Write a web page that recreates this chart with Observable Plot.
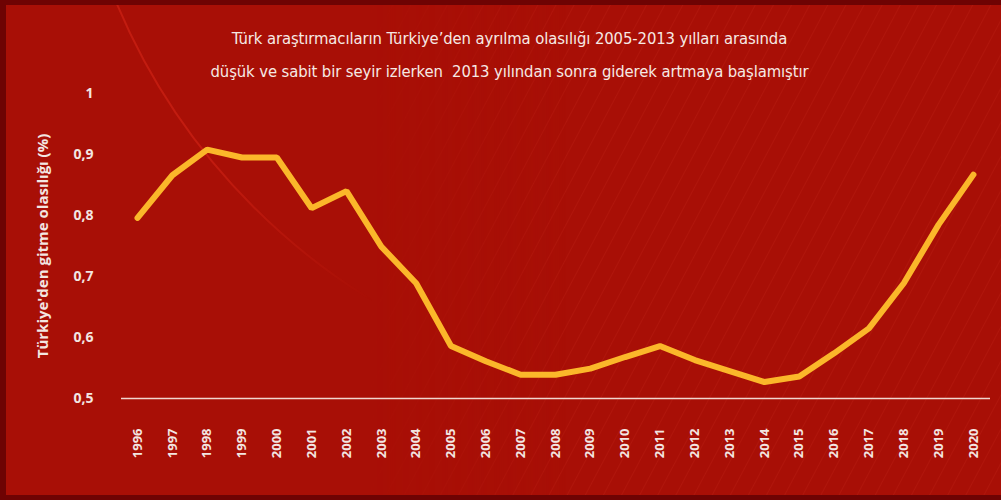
<!DOCTYPE html>
<html>
<head>
<meta charset="utf-8">
<script src="https://cdn.jsdelivr.net/npm/d3@7"></script>
<script src="https://cdn.jsdelivr.net/npm/@observablehq/plot@0.6"></script>
<style>
  html, body { margin: 0; padding: 0; }
  #wrap {
    position: relative; width: 1001px; height: 500px; box-sizing: border-box;
    border-top: 5px solid #6e0303; border-left: 6px solid #6e0303; border-bottom: 5px solid #6e0303;
    background:
      repeating-linear-gradient(-62deg, rgba(255,80,60,0) 0px, rgba(255,80,60,0) 14px, rgba(255,90,70,0.09) 15px, rgba(255,80,60,0) 16px),
      #a80f06;
    overflow: hidden;
  }
  #wrap::before {
    content: ""; position: absolute; left: 0; top: 0; width: 560px; height: 500px;
    background: #a80f06;
    -webkit-mask-image: linear-gradient(90deg, #000 65%, transparent 100%);
    mask-image: linear-gradient(90deg, #000 65%, transparent 100%);
  }
  #deco {
    position: absolute; left: 0; top: 0; width: 420px; height: 360px; overflow: hidden;
    -webkit-mask-image: linear-gradient(135deg, #000 45%, transparent 85%);
    mask-image: linear-gradient(135deg, #000 45%, transparent 85%);
  }
  #deco::after {
    content: ""; position: absolute; left: 60px; top: -885px; width: 1270px; height: 1270px;
    border-radius: 50%; border: 2px solid rgba(255,60,40,0.3);
  }
  #title {
    position: relative; z-index: 2;
    text-align: center; color: #f6e9e4;
    font-family: "Liberation Sans Narrow", "DejaVu Sans Condensed", "Roboto", sans-serif;
    font-size: 16.5px; letter-spacing: -0.1px; line-height: 33px; padding-top: 17px; box-sizing: border-box; height: 80px;
    margin-left: 12px;
  }
  #chart { position: relative; z-index: 2; }
</style>
</head>
<body>
<div id="wrap">
  <div id="deco"></div>
  <div id="title">Türk araştırmacıların Türkiye’den ayrılma olasılığı 2005-2013 yılları arasında<br>düşük ve sabit bir seyir izlerken &nbsp;2013 yılından sonra giderek artmaya başlamıştır</div>
  <div id="chart"></div>
</div>
<script>
const years = [1996,1997,1998,1999,2000,2001,2002,2003,2004,2005,2006,2007,2008,2009,2010,2011,2012,2013,2014,2015,2016,2017,2018,2019,2020];
const values = [0.796,0.866,0.908,0.895,0.895,0.812,0.840,0.749,0.689,0.586,0.561,0.539,0.539,0.549,0.568,0.586,0.563,0.545,0.527,0.536,0.574,0.615,0.689,0.785,0.867];
const yTicks = [0.5,0.6,0.7,0.8,0.9,1];
const yLabel = "Türkiye'den gitme olasılığı (%)";

const data = years.map((y, i) => ({year: y, value: values[i]}));
const fmt = v => String(v).replace(".", ",");

const chart = Plot.plot({
  width: 995,
  height: 410,
  marginLeft: 115,
  marginRight: 11,
  marginTop: 8,
  marginBottom: 97,
  style: {background: "transparent", color: "#f3e6e2", fontFamily: "'Open Sans', sans-serif", fontWeight: "bold", fontSize: "13px", overflow: "visible"},
  x: {domain: [1995.54, 2020.49], ticks: years, tickFormat: d => String(d), tickRotate: -90, tickSize: 0, tickPadding: 30, label: null},
  y: {domain: [0.5, 1], ticks: yTicks, tickFormat: fmt, tickSize: 0, tickPadding: 28, label: yLabel, labelAnchor: "center", labelArrow: "none", labelOffset: 84},
  marks: [
    Plot.ruleY([0.5], {stroke: "#f1d6cf", strokeWidth: 1.5}),
    Plot.line(data, {x: "year", y: "value", stroke: "#fbb72a", strokeWidth: 6, strokeLinejoin: "miter", strokeLinecap: "round"})
  ]
});
d3.select(chart).selectAll("[aria-label='y-axis label'] text").style("font-size", "15px");
d3.select(chart).selectAll("[aria-label='y-axis tick label'] text").style("font-size", "14px");
document.getElementById("chart").appendChild(chart);
</script>
</body>
</html>
